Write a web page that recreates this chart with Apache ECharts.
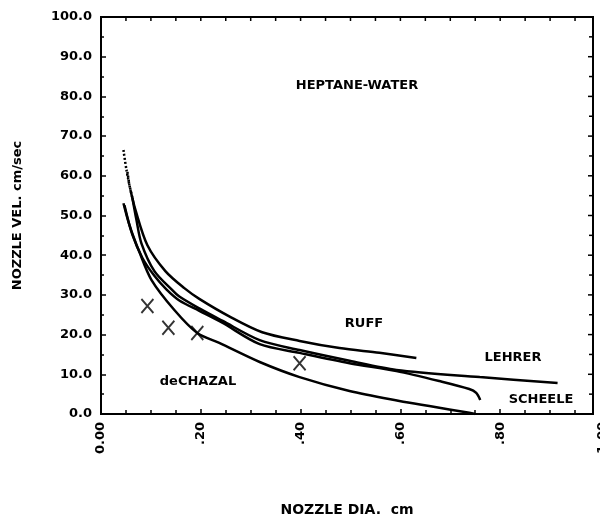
<!DOCTYPE html>
<html>
<head>
<meta charset="utf-8">
<script src="https://cdn.jsdelivr.net/npm/echarts@6/dist/echarts.min.js"></script>
<style>
  html, body { margin: 0; padding: 0; background: #fff; }
  #chart { width: 600px; height: 520px; }
</style>
</head>
<body>
<div id="chart"></div>
<script>
// curves: [nozzle dia (cm), nozzle vel (cm/sec)]
const ruffDotted = [[0.045, 66.5], [0.051, 61.5], [0.059, 56.4]]
const ruff = [[0.059, 56.4], [0.069, 51.4], [0.093, 42.5], [0.129, 36.0], [0.167, 31.7], [0.197, 29.0],
  [0.257, 24.6], [0.323, 20.6], [0.398, 18.4], [0.478, 16.6], [0.558, 15.4], [0.632, 14.1]]
const lehrerDotted = [[0.053, 61.0], [0.057, 57.7], [0.063, 54.4]]
const lehrer = [[0.063, 54.4], [0.071, 48.9], [0.081, 43.0], [0.107, 36.0], [0.143, 31.2], [0.157, 29.6],
  [0.197, 26.6], [0.243, 23.5], [0.318, 18.6], [0.398, 16.1], [0.498, 13.4], [0.592, 11.1],
  [0.759, 9.3], [0.915, 7.8]]
const scheele = [[0.047, 52.6], [0.063, 45.1], [0.083, 39.3], [0.107, 34.8], [0.131, 31.4], [0.157, 28.6],
  [0.197, 26.0], [0.243, 23.0], [0.318, 17.6], [0.398, 15.4], [0.498, 12.8], [0.592, 10.8],
  [0.678, 8.3], [0.738, 6.3], [0.752, 5.3], [0.760, 3.5]]
const dechazal = [[0.045, 53.1], [0.057, 47.6], [0.077, 40.8], [0.101, 33.8], [0.147, 26.2], [0.193, 20.4],
  [0.237, 17.9], [0.318, 13.1], [0.398, 9.3], [0.498, 5.8], [0.598, 3.3], [0.658, 2.0],
  [0.738, 0.3], [0.750, 0.0]]
// measured points (X marks)
const measured = [[0.093, 27.2], [0.135, 21.7], [0.193, 20.4], [0.398, 12.8]]

const xTickLabels = { 0: '0.00', 0.2: '.20', 0.4: '.40', 0.6: '.60', 0.8: '.80' }
// ticks on the top and right side of the frame
const topTicks = [0.05, 0.1, 0.15, 0.2, 0.25, 0.3, 0.35, 0.4, 0.45, 0.5, 0.55, 0.6, 0.65, 0.7, 0.75, 0.8, 0.85, 0.9, 0.95]
const rightTicks = [5, 10, 15, 20, 25, 30, 35, 40, 45, 50, 55, 60, 65, 70, 75, 80, 85, 90, 95]
const xMax = 0.986 // frame ends just short of 1.00
const yMax = 100

const font = 'DejaVu Sans'
const chart = echarts.init(document.getElementById('chart'))

const lineSeries = (data, dotted) => ({
  type: 'line',
  data: data,
  smooth: 0.3,
  symbol: 'none',
  silent: true,
  lineStyle: { color: '#000', width: 2.5, type: dotted ? [2, 2] : 'solid' }
})

// short inward tick drawn at a data position through the axes' scales
const frameTicks = (data, side) => ({
  type: 'custom',
  silent: true,
  data: data,
  renderItem: (params, api) => {
    const p = api.coord([api.value(0), api.value(1)])
    const major = side === 'right' && api.value(1) % 10 === 0
    const len = major ? 5 : 4
    const shape = side === 'top'
      ? { x1: p[0], y1: p[1], x2: p[0], y2: p[1] + len }
      : { x1: p[0], y1: p[1], x2: p[0] - len, y2: p[1] }
    return { type: 'line', shape: shape, style: { stroke: '#000', lineWidth: 1.5 } }
  }
})

const axisLine = () => ({ show: true, onZero: false, lineStyle: { color: '#000', width: 2 } })
const tickStyle = () => ({ color: '#000', width: 1.5 })
const labelStyle = () => ({ color: '#000', fontFamily: font, fontWeight: 'bold', fontSize: 13 })

const option = {
  animation: false,
  backgroundColor: '#fff',
  grid: {
    left: 101, top: 17, width: 492, height: 397, outerBoundsMode: 'none',
    show: true, borderColor: '#000', borderWidth: 2, backgroundColor: 'transparent'
  },
  xAxis: {
    type: 'value',
    min: 0,
    max: xMax,
    interval: 0.2,
    axisLine: axisLine(),
    axisTick: { inside: true, length: 5, lineStyle: tickStyle() },
    minorTick: { show: true, splitNumber: 4, length: 4, lineStyle: tickStyle() },
    splitLine: { show: false },
    axisLabel: Object.assign(labelStyle(), {
      rotate: 90,
      margin: 8,
      showMaxLabel: false,
      formatter: v => xTickLabels[v] ?? ''
    }),
    name: 'NOZZLE DIA.  cm',
    nameLocation: 'middle',
    nameGap: 89,
    nameTextStyle: Object.assign(labelStyle(), { fontSize: 14 })
  },
  yAxis: {
    type: 'value',
    min: 0,
    max: yMax,
    interval: 10,
    axisLine: axisLine(),
    axisTick: { inside: true, length: 5, lineStyle: tickStyle() },
    minorTick: { show: true, splitNumber: 2, length: 3, lineStyle: tickStyle() },
    splitLine: { show: false },
    axisLabel: Object.assign(labelStyle(), { margin: 9, formatter: v => v.toFixed(1) }),
    name: 'NOZZLE VEL. cm/sec',
    nameLocation: 'middle',
    nameGap: 77,
    nameRotate: 90,
    nameTextStyle: labelStyle()
  },
  series: [
    lineSeries(ruffDotted, true),
    lineSeries(ruff, false),
    lineSeries(lehrerDotted, true),
    lineSeries(lehrer, false),
    lineSeries(scheele, false),
    lineSeries(dechazal, false),
    {
      type: 'scatter',
      data: measured,
      symbol: 'path://M0,0L10,12M10,0L0,12',
      symbolSize: [12, 14],
      itemStyle: { color: 'none', borderColor: '#000', borderWidth: 2 }
    },
    frameTicks(topTicks.map(v => [v, yMax]), 'top'),
    frameTicks(rightTicks.map(v => [xMax, v]), 'right')
  ],
  graphic: [
    { text: 'HEPTANE-WATER', x: 357, y: 86 },
    { text: 'RUFF', x: 364, y: 324 },
    { text: 'LEHRER', x: 513, y: 358 },
    { text: 'SCHEELE', x: 541, y: 400 },
    { text: 'deCHAZAL', x: 198, y: 382 }
  ].map(t => ({
    type: 'text',
    x: t.x,
    y: t.y,
    silent: true,
    style: {
      text: t.text,
      fill: '#000',
      font: 'bold 13px "DejaVu Sans"',
      textAlign: 'center',
      textVerticalAlign: 'middle',
      verticalAlign: 'middle'
    }
  })).concat([{
    // the 1.00 label sits past the frame and is cut by the page edge
    type: 'text',
    x: 603,
    y: 422,
    rotation: Math.PI / 2,
    silent: true,
    style: {
      text: '1.00',
      fill: '#000',
      font: 'bold 13px "DejaVu Sans"',
      textAlign: 'right',
      textVerticalAlign: 'middle',
      verticalAlign: 'middle'
    }
  }])
}

chart.setOption(option)
</script>
</body>
</html>
